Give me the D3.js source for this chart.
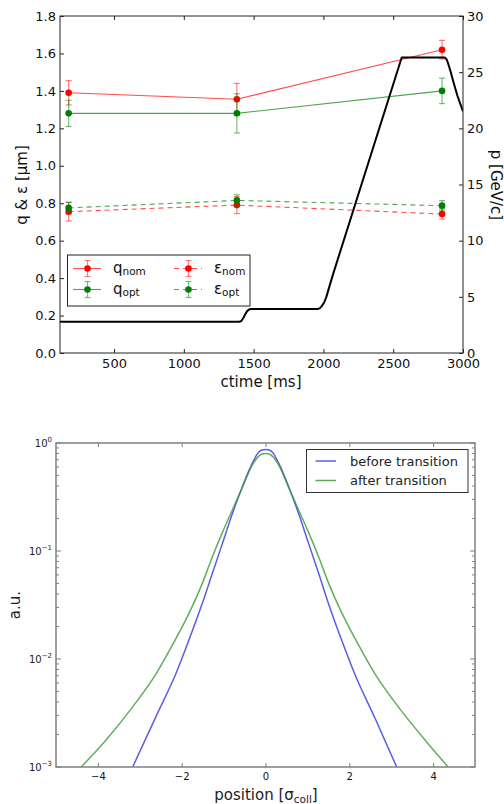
<!DOCTYPE html>
<html>
<head>
<meta charset="utf-8">
<script src="https://cdn.jsdelivr.net/npm/d3@7"></script>
<style>
body{margin:0;background:#fff;}
text{font-family:"DejaVu Sans",sans-serif;}
</style>
</head>
<body>
<script>
// ---- top panel data ----
var ctime = [175, 1380, 2850];
var qNom = [1.39, 1.355, 1.62], qNomErr = [0.065, 0.085, 0.05];
var qOpt = [1.28, 1.28, 1.40], qOptErr = [0.07, 0.105, 0.068];
var epsNom = [0.755, 0.79, 0.742], epsNomErr = [0.05, 0.045, 0.027];
var epsOpt = [0.775, 0.815, 0.787], epsOptErr = [0.03, 0.03, 0.027];
// momentum cycle (right axis)
var cycT = [113, 1400, 1412, 1425, 1440, 1455, 1468, 1480, 1960, 1975, 1990, 2005, 2020, 2040, 2071, 2561, 2871, 2882, 2893, 2910, 2930, 2960, 3000];
var cycP = [2.79, 2.79, 2.85, 3.1, 3.45, 3.75, 3.88, 3.92, 3.92, 4.0, 4.2, 4.5, 4.95, 5.8, 7.09, 26.3, 26.3, 26.15, 25.8, 25.1, 24.2, 22.9, 21.5];
var xTicks1 = [500, 1000, 1500, 2000, 2500, 3000];
var yTicks1 = [0, 0.2, 0.4, 0.6, 0.8, 1.0, 1.2, 1.4, 1.6, 1.8];
var pTicks = [0, 5, 10, 15, 20, 25, 30];

// ---- bottom panel data ----
var posBefore = [-3.17, -2.62, -2.14, -1.83, -1.51, -1.27, -1.03, -0.79, -0.555, -0.32, -0.16, -0.08, 0,
                 0.08, 0.16, 0.32, 0.555, 0.79, 1.03, 1.27, 1.51, 1.83, 2.14, 2.62, 3.13];
var aBefore = [0.001, 0.0029, 0.0073, 0.0149, 0.0326, 0.0618, 0.117, 0.222, 0.392, 0.644, 0.826, 0.86, 0.869,
               0.86, 0.826, 0.644, 0.392, 0.222, 0.117, 0.0618, 0.032, 0.0145, 0.0071, 0.0028, 0.001];
var posAfter = [-4.40, -3.81, -3.17, -2.62, -2.22, -1.83, -1.51, -1.27, -1.03, -0.79, -0.555, -0.32, -0.16, -0.08, 0,
                0.08, 0.16, 0.32, 0.555, 0.79, 1.03, 1.27, 1.51, 1.83, 2.22, 2.62, 3.17, 3.81, 4.36];
var aAfter = [0.001, 0.00177, 0.0036, 0.0072, 0.0135, 0.0263, 0.0499, 0.088, 0.148, 0.24, 0.385, 0.62, 0.755, 0.79, 0.80,
              0.79, 0.755, 0.62, 0.385, 0.24, 0.148, 0.088, 0.0499, 0.0263, 0.0135, 0.0072, 0.0036, 0.00177, 0.001];
var xTicks2 = [-4, -2, 0, 2, 4];
var decades = [-3, -2, -1, 0];

var red = "#ff0000", green = "#007f00";
var blueC = "#4040e0", greenC = "#3a9a3a";

var svg = d3.select("body").append("svg")
    .attr("width", 504)
    .attr("height", 804);

//================ top panel ================
var x1 = d3.scaleLinear().domain([113, 3000]).range([60, 463]);
var y1 = d3.scaleLinear().domain([0, 1.8]).range([353, 16]);
var yp = d3.scaleLinear().domain([0, 30]).range([353, 16]);

svg.append("clipPath").attr("id", "clip1")
    .append("rect").attr("x", 60).attr("y", 16).attr("width", 403).attr("height", 337);

function styleAxis(g, size, color) {
    g.select(".domain").remove();
    g.attr("font-size", size);
    g.selectAll("line").attr("stroke", color);
    g.selectAll("text").attr("fill", "#111");
}

svg.append("g").attr("transform", "translate(0,353)")
    .call(d3.axisBottom(x1).tickValues(xTicks1).tickFormat(d3.format("d")).tickSizeInner(-4).tickSizeOuter(0).tickPadding(6))
    .call(styleAxis, 13, "#222");
svg.append("g").attr("transform", "translate(0,16)")
    .call(d3.axisTop(x1).tickValues(xTicks1).tickSizeInner(-4).tickSizeOuter(0).tickFormat(""))
    .call(styleAxis, 13, "#222");
svg.append("g").attr("transform", "translate(60,0)")
    .call(d3.axisLeft(y1).tickValues(yTicks1).tickFormat(d3.format(".1f")).tickSizeInner(-4).tickSizeOuter(0).tickPadding(4))
    .call(styleAxis, 13, "#222");
svg.append("g").attr("transform", "translate(463,0)")
    .call(d3.axisRight(yp).tickValues(pTicks).tickSizeInner(-4).tickSizeOuter(0).tickPadding(4))
    .call(styleAxis, 13, "#222");

// series with error bars
function series(vals, errs, color, dashed) {
    var pts = ctime.map(function(t, i) { return [t, vals[i], errs[i]]; });
    var line = d3.line().x(function(d) { return x1(d[0]); }).y(function(d) { return y1(d[1]); });
    svg.append("path").datum(pts)
        .attr("d", line)
        .attr("fill", "none")
        .attr("stroke", color)
        .attr("stroke-opacity", 0.7)
        .attr("stroke-width", 1.1)
        .attr("stroke-dasharray", dashed ? "5,4" : null);
    var eb = svg.append("g").attr("stroke", color).attr("stroke-opacity", 0.5).attr("stroke-width", 1.2);
    pts.forEach(function(d) {
        var cx = x1(d[0]), top = y1(d[1] + d[2]), bot = y1(d[1] - d[2]);
        eb.append("line").attr("x1", cx).attr("x2", cx).attr("y1", top).attr("y2", bot);
        eb.append("line").attr("x1", cx - 3).attr("x2", cx + 3).attr("y1", top).attr("y2", top);
        eb.append("line").attr("x1", cx - 3).attr("x2", cx + 3).attr("y1", bot).attr("y2", bot);
    });
    svg.append("g").selectAll("circle").data(pts).enter()
        .append("circle")
        .attr("cx", function(d) { return x1(d[0]); })
        .attr("cy", function(d) { return y1(d[1]); })
        .attr("r", 3.3)
        .attr("fill", color);
}
series(qNom, qNomErr, red, false);
series(qOpt, qOptErr, green, false);
series(epsNom, epsNomErr, red, true);
series(epsOpt, epsOptErr, green, true);

// momentum line on twin axis
var cyc = cycT.map(function(t, i) { return [t, cycP[i]]; });
svg.append("path").datum(cyc)
    .attr("clip-path", "url(#clip1)")
    .attr("d", d3.line().x(function(d) { return x1(d[0]); }).y(function(d) { return yp(d[1]); }))
    .attr("fill", "none")
    .attr("stroke", "#000")
    .attr("stroke-width", 2)
    .attr("stroke-linejoin", "round");

svg.append("rect").attr("x", 60).attr("y", 16).attr("width", 403).attr("height", 337)
    .attr("fill", "none").attr("stroke", "#222").attr("stroke-width", 1);

// top legend
var leg = svg.append("g");
leg.append("rect").attr("x", 67.5).attr("y", 255).attr("width", 182.5).attr("height", 51)
    .attr("fill", "#fff").attr("stroke", "#222").attr("stroke-width", 1);
var legItems = [
    {c: red, dash: false, base: "q", sub: "nom", x: 73, y: 268.5},
    {c: green, dash: false, base: "q", sub: "opt", x: 73, y: 289.5},
    {c: red, dash: true, base: "ε", sub: "nom", x: 174, y: 268.5},
    {c: green, dash: true, base: "ε", sub: "opt", x: 174, y: 289.5}
];
legItems.forEach(function(d) {
    leg.append("line").attr("x1", d.x).attr("x2", d.x + 28).attr("y1", d.y).attr("y2", d.y)
        .attr("stroke", d.c).attr("stroke-opacity", 0.7).attr("stroke-width", 1.1)
        .attr("stroke-dasharray", d.dash ? "5,4" : null);
    var mx = d.x + 14.5;
    var g = leg.append("g").attr("stroke", d.c).attr("stroke-opacity", 0.5).attr("stroke-width", 1.2);
    g.append("line").attr("x1", mx).attr("x2", mx).attr("y1", d.y - 8).attr("y2", d.y + 8);
    g.append("line").attr("x1", mx - 3).attr("x2", mx + 3).attr("y1", d.y - 8).attr("y2", d.y - 8);
    g.append("line").attr("x1", mx - 3).attr("x2", mx + 3).attr("y1", d.y + 8).attr("y2", d.y + 8);
    leg.append("circle").attr("cx", mx).attr("cy", d.y).attr("r", 3.3).attr("fill", d.c);
    var t = leg.append("text").attr("x", d.x + 40).attr("y", d.y + 4).attr("font-size", 15).attr("fill", "#111");
    t.append("tspan").text(d.base);
    t.append("tspan").attr("font-size", 10.5).attr("dy", 2).text(d.sub);
});

// top labels
svg.append("text").attr("x", 261).attr("y", 387).attr("text-anchor", "middle")
    .attr("font-size", 15).attr("fill", "#111").text("ctime [ms]");
svg.append("text").attr("transform", "translate(27,185) rotate(-90)").attr("text-anchor", "middle")
    .attr("font-size", 15).attr("fill", "#111").text("q & ε [μm]");
svg.append("text").attr("transform", "translate(491,185) rotate(90)").attr("text-anchor", "middle")
    .attr("font-size", 15).attr("fill", "#111").text("p [GeV/c]");

//================ bottom panel ================
var x2 = d3.scaleLinear().domain([-5, 5]).range([56, 475]);
var y2 = d3.scaleLog().domain([1e-3, 1]).range([767, 443]);

svg.append("clipPath").attr("id", "clip2")
    .append("rect").attr("x", 56).attr("y", 443).attr("width", 419).attr("height", 324);

var curve = d3.line().curve(d3.curveMonotoneX)
    .x(function(d) { return x2(d[0]); })
    .y(function(d) { return y2(d[1]); });
var before = posBefore.map(function(p, i) { return [p, aBefore[i]]; });
var after = posAfter.map(function(p, i) { return [p, aAfter[i]]; });

svg.append("path").datum(before).attr("clip-path", "url(#clip2)")
    .attr("d", curve).attr("fill", "none").attr("stroke", blueC).attr("stroke-opacity", 0.85).attr("stroke-width", 1.5);
svg.append("path").datum(after).attr("clip-path", "url(#clip2)")
    .attr("d", curve).attr("fill", "none").attr("stroke", greenC).attr("stroke-opacity", 0.8).attr("stroke-width", 1.5);

var axCol = "#808080";
svg.append("g").attr("transform", "translate(0,767)")
    .call(d3.axisBottom(x2).tickValues(xTicks2).tickSizeInner(-4).tickSizeOuter(0).tickPadding(6))
    .call(styleAxis, 10, axCol);
svg.append("g").attr("transform", "translate(0,443)")
    .call(d3.axisTop(x2).tickValues(xTicks2).tickSizeInner(-4).tickSizeOuter(0).tickFormat(""))
    .call(styleAxis, 10, axCol);

// log ticks on both sides
var minor = [];
decades.slice(0, 3).forEach(function(e) {
    for (var k = 2; k <= 9; k++) minor.push(k * Math.pow(10, e));
});
var lt = svg.append("g").attr("stroke", axCol).attr("stroke-width", 1);
decades.forEach(function(e) {
    var yy = y2(Math.pow(10, e));
    lt.append("line").attr("x1", 56).attr("x2", 61).attr("y1", yy).attr("y2", yy);
    lt.append("line").attr("x1", 470).attr("x2", 475).attr("y1", yy).attr("y2", yy);
});
minor.forEach(function(v) {
    var yy = y2(v);
    lt.append("line").attr("x1", 56).attr("x2", 59).attr("y1", yy).attr("y2", yy);
    lt.append("line").attr("x1", 472).attr("x2", 475).attr("y1", yy).attr("y2", yy);
});
decades.forEach(function(e) {
    var t = svg.append("text").attr("x", 52).attr("y", y2(Math.pow(10, e)) + 4)
        .attr("text-anchor", "end").attr("font-size", 10).attr("fill", "#222");
    t.append("tspan").text("10");
    t.append("tspan").attr("font-size", 7).attr("dy", -5).text(e === 0 ? "0" : "−" + (-e));
});

svg.append("rect").attr("x", 56).attr("y", 443).attr("width", 419).attr("height", 324)
    .attr("fill", "none").attr("stroke", axCol).attr("stroke-width", 1.5);

// bottom legend
var leg2 = svg.append("g");
leg2.append("rect").attr("x", 306.5).attr("y", 449.5).attr("width", 161.5).attr("height", 43)
    .attr("fill", "#fff").attr("stroke", "#333").attr("stroke-width", 1);
[["before transition", blueC, 461], ["after transition", greenC, 480.5]].forEach(function(d) {
    leg2.append("line").attr("x1", 315.5).attr("x2", 336).attr("y1", d[2]).attr("y2", d[2])
        .attr("stroke", d[1]).attr("stroke-opacity", 0.85).attr("stroke-width", 1.5);
    leg2.append("text").attr("x", 350).attr("y", d[2] + 4.5).attr("font-size", 13).attr("fill", "#222").text(d[0]);
});

// bottom labels
var xl = svg.append("text").attr("x", 266).attr("y", 800).attr("text-anchor", "middle")
    .attr("font-size", 15).attr("fill", "#222");
xl.append("tspan").text("position [σ");
xl.append("tspan").attr("font-size", 10.5).attr("dy", 3).text("coll");
xl.append("tspan").attr("dy", -3).text("]");
svg.append("text").attr("transform", "translate(20,605) rotate(-90)").attr("text-anchor", "middle")
    .attr("font-size", 15).attr("fill", "#222").text("a.u.");
</script>
</body>
</html>
